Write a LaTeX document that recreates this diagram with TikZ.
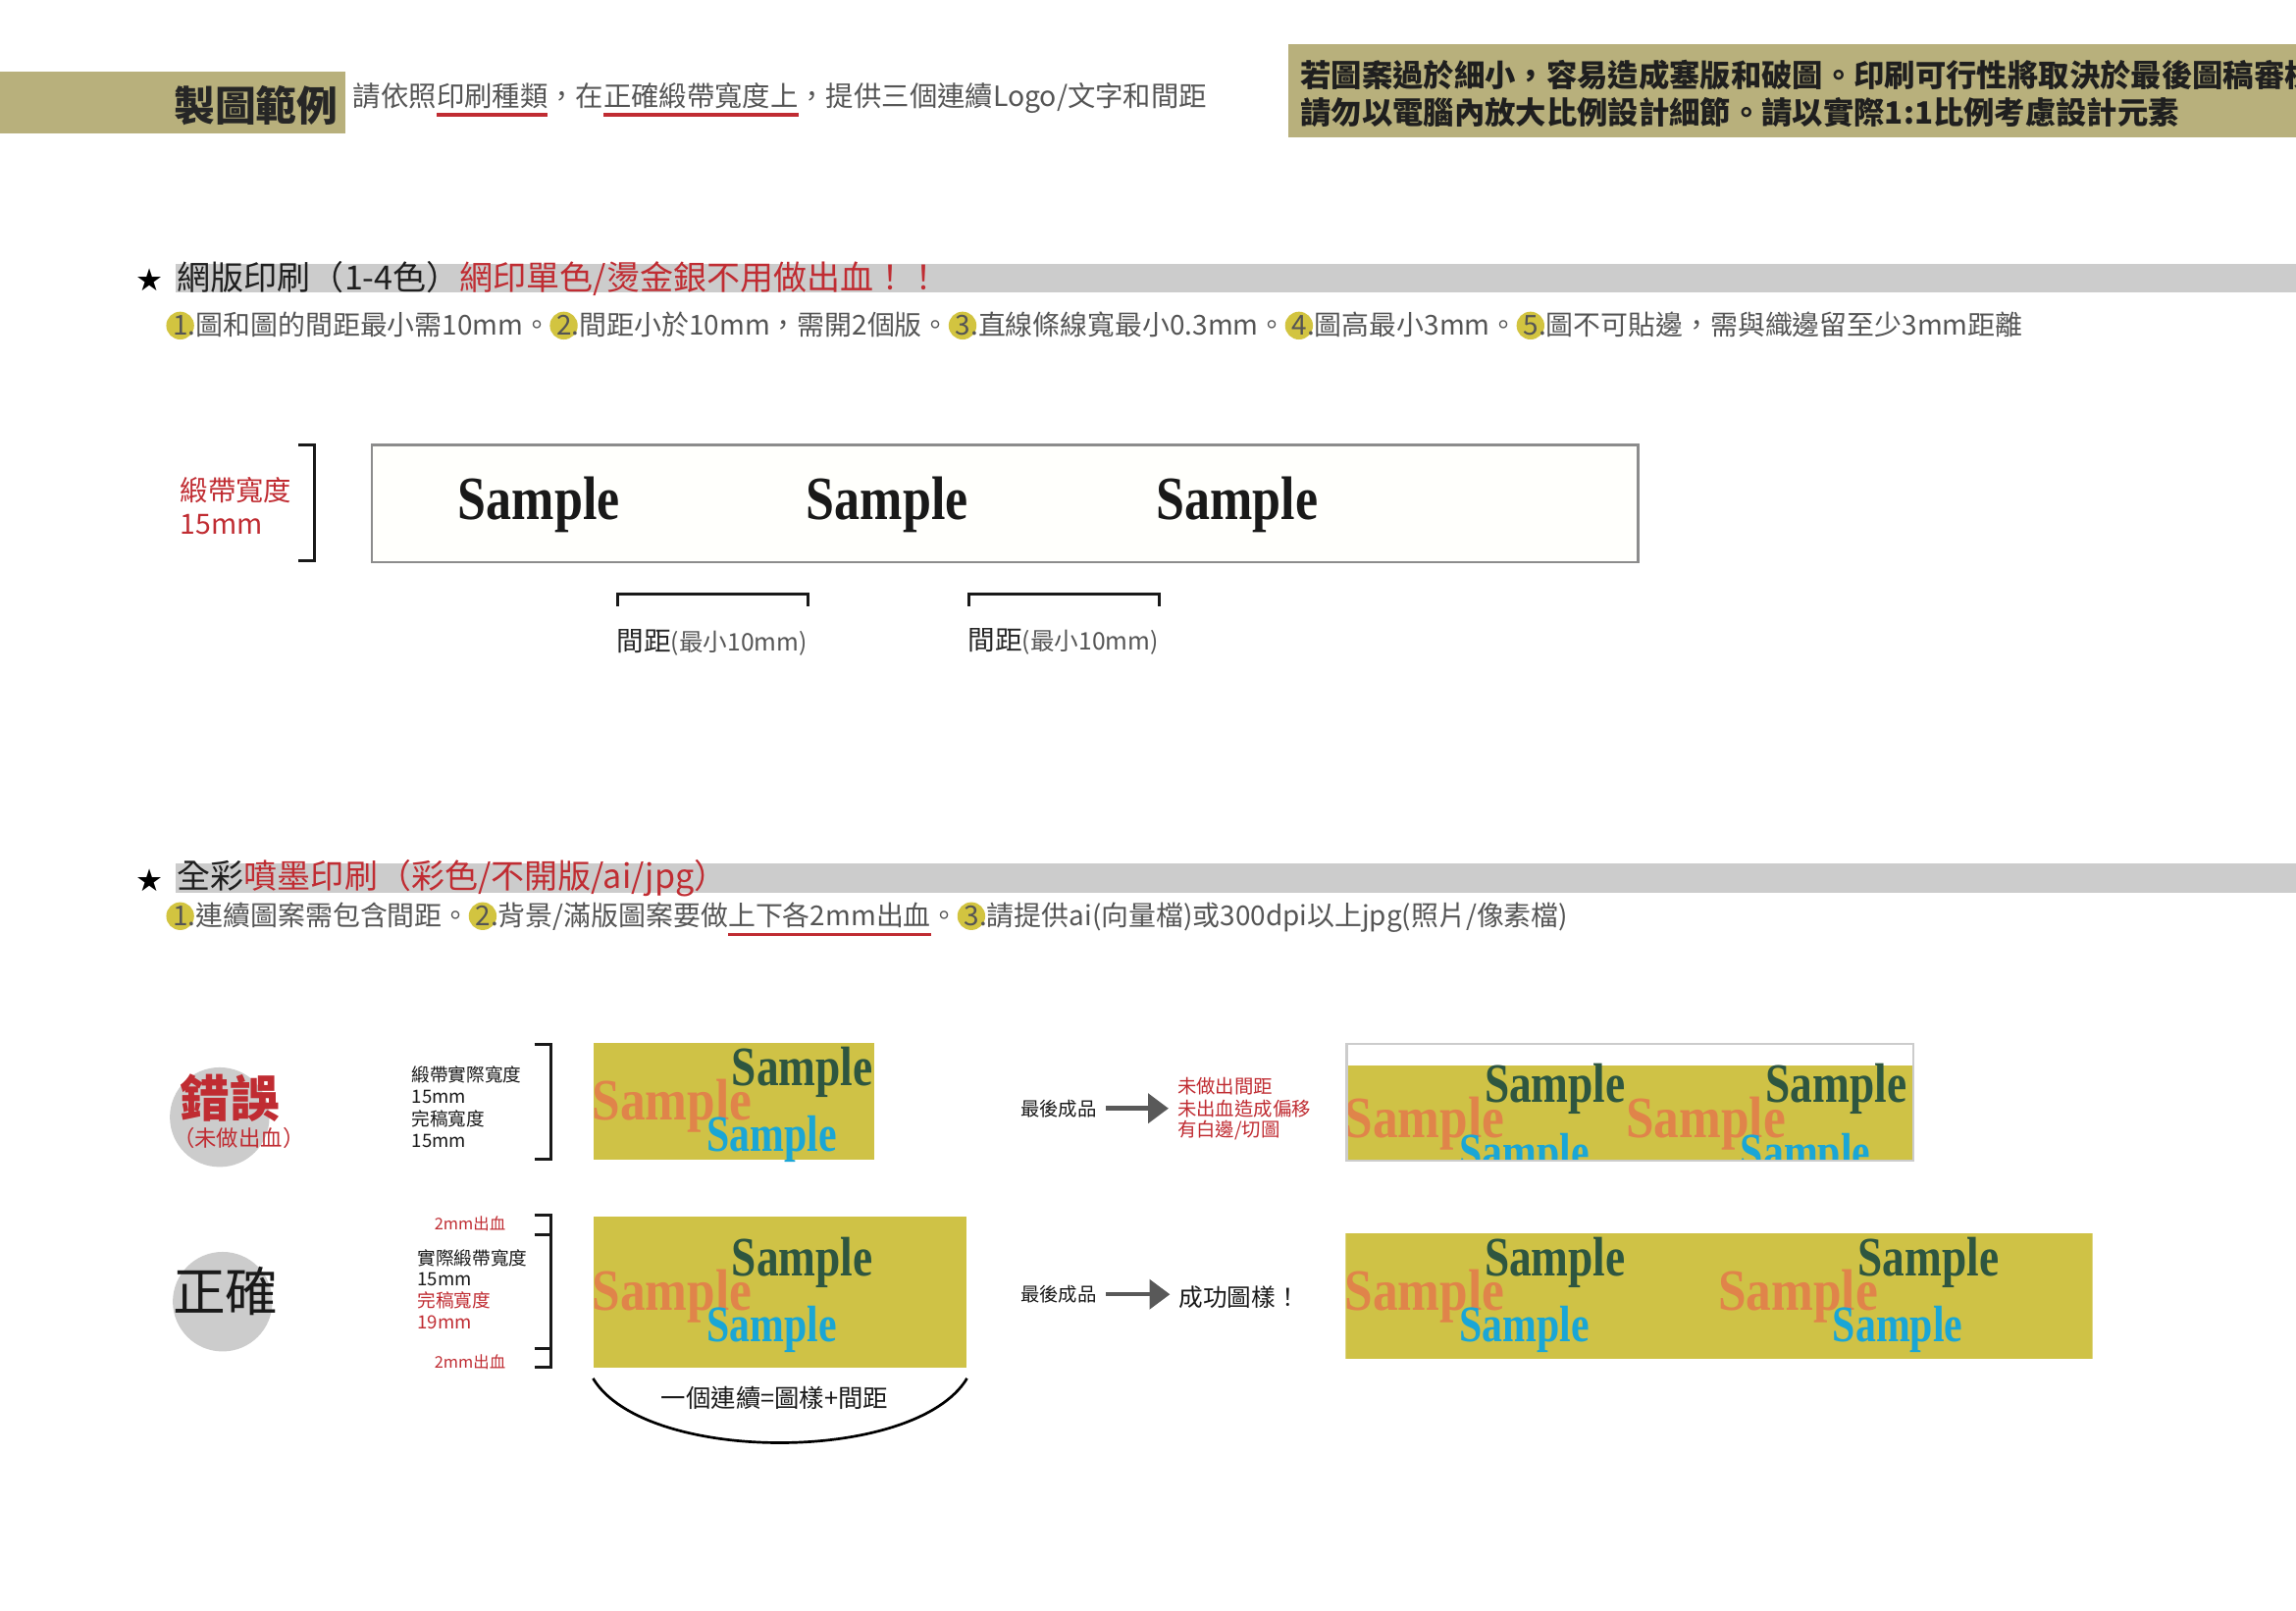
\documentclass[tikz,border=0pt]{standalone}
\usepackage{fontspec}
\setmainfont{Noto Sans CJK TC}
\newfontfamily\serifb{Liberation Serif}
\newfontfamily\symf{DejaVu Sans}
\usetikzlibrary{arrows.meta}
\definecolor{khaki}{RGB}{184,176,124}
\definecolor{ribyel}{RGB}{207,194,70}
\definecolor{numyel}{RGB}{210,196,64}
\definecolor{sgreen}{RGB}{46,86,64}
\definecolor{sorange}{RGB}{224,132,74}
\definecolor{sblue}{RGB}{26,166,214}
\definecolor{ulred}{RGB}{192,44,50}
\definecolor{bodygray}{RGB}{85,85,85}
\definecolor{bargray}{RGB}{204,204,204}
\newcommand\fs[1]{\fontsize{#1}{#1}\selectfont}
\newsavebox\ulbox
\newcommand\redul[1]{\sbox\ulbox{#1}\rlap{\color{ulred}\rule[-7pt]{\wd\ulbox}{2.2pt}}\usebox\ulbox}
\newcommand\numc[1]{\hspace{4pt}\tikz[x=1pt,y=1pt,baseline=0pt]{\fill[numyel,overlay] (0.27em,0.36em) circle (9.5pt); \node[inner sep=0pt,anchor=base west,text=bodygray](nc) at (0,0) {#1};}}
\newcommand\smp[1]{\scalebox{#1}[1]{Sample}}
\tikzset{
  txt/.style={inner sep=0pt,anchor=west},
  ctxt/.style={inner sep=0pt},
  sampK/.style={inner sep=0pt,font=\serifb\bfseries\fs{42},text=black!90},
  sampG/.style={inner sep=0pt,font=\serifb\bfseries\fs{38},text=sgreen},
  sampO/.style={inner sep=0pt,font=\serifb\bfseries\fs{40},text=sorange},
  sampB/.style={inner sep=0pt,font=\serifb\bfseries\fs{35},text=sblue},
  brk/.style={line width=2pt,draw=black!90},
  arrowst/.style={draw=black!65,line width=3pt,-{Triangle[length=14pt,width=20pt]},shorten <=6pt,shorten >=6pt},
  graycirc/.style={circle,fill=bargray,inner sep=0pt,minimum size=68pt},
}
% three coloured samples, origin = top-left of a full-bleed tile
\newcommand\samples[3]{%
  \node[sampO] (o#3) at (#1+54,#2+54) {\smp{0.86}};
  \node[sampG] (g#3) at (#1+143,#2+31) {\smp{0.8}};
  \node[sampB] (b#3) at (#1+122,#2+77) {\smp{0.8}};
}
\begin{document}
\begin{tikzpicture}[x=1pt,y=-1pt]
\useasboundingbox (0,0) rectangle (1568,1100);
\clip (0,0) rectangle (1568,1100);
\fill[white] (0,0) rectangle (1568,1100);

% ---------- header ----------
\fill[khaki] (0,49) rectangle (236,91);
\node[ctxt,anchor=east,font=\fs{28}\bfseries,text=black!85] (title) at (231,72) {製圖範例};
\node[txt,font=\fs{19},text=bodygray] (intro) at (241,68)
  {請依照\redul{印刷種類}，在\redul{正確緞帶寬度上}，提供三個連續Logo/文字和間距};
\fill[khaki] (880,30) rectangle (1568,94);
\node[txt,font=\fs{21}\bfseries,text=black!88] (warn1) at (888,51)
  {若圖案過於細小，容易造成塞版和破圖。印刷可行性將取決於最後圖稿審核};
\node[txt,font=\fs{21}\bfseries,text=black!88] (warn2) at (888,77)
  {請勿以電腦內放大比例設計細節。請以實際1:1比例考慮設計元素};

% ---------- section 1 ----------
\fill[bargray] (120,180) rectangle (1568,200);
\node[ctxt,font=\symf\fs{21}] (star1) at (102,191) {★};
\node[txt,font=\fs{22.8},text=black!88] (sec1) at (121,190)
  {網版印刷（1-4色）\textcolor{ulred}{網印單色/燙金銀不用做出血！！}};
\node[txt,font=\fs{18.7},text=bodygray] (rules1) at (114,222)
  {\numc{1}.圖和圖的間距最小需10mm。\numc{2}.間距小於10mm，需開2個版。\numc{3}.直線條線寬最小0.3mm。\numc{4}.圖高最小3mm。\numc{5}.圖不可貼邊，需與織邊留至少3mm距離};

\node[draw=black!45,line width=1.8pt,fill=yellow!1,inner sep=0pt,minimum width=865pt,minimum height=80pt,anchor=north west] (strip) at (253,303) {};
\node[sampK] (k1) at (368,345) {\smp{0.83}};
\node[sampK] (k2) at (606,345) {\smp{0.83}};
\node[sampK] (k3) at (845,345) {\smp{0.83}};
\draw[brk] (204,304) -- (215,304) -- (215,383) -- (204,383);
\node[txt,font=\fs{19},text=ulred] (wlab1) at (123,335) {緞帶寬度};
\node[txt,font=\fs{19},text=ulred] (wlab2) at (123,358) {15mm};
\draw[brk] (422,414) -- (422,406) -- (552,406) -- (552,414);
\draw[brk] (662,414) -- (662,406) -- (792,406) -- (792,414);
\node[txt,text=black!85] (gap1) at (421,439) {{\fs{18.5}間距}{\fs{16.5}\color{bodygray}(最小10mm)}};
\node[txt,text=black!85] (gap2) at (661,438) {{\fs{18.5}間距}{\fs{16.5}\color{bodygray}(最小10mm)}};

% ---------- section 2 ----------
\fill[bargray] (120,590) rectangle (1568,610);
\node[ctxt,font=\symf\fs{21}] (star2) at (102,601) {★};
\node[txt,font=\fs{22.8},text=black!88] (sec2) at (121,600)
  {全彩\textcolor{ulred}{噴墨印刷（彩色/不開版/ai/jpg）}};
\node[txt,font=\fs{18.7},text=bodygray] (rules2) at (114,628)
  {\numc{1}.連續圖案需包含間距。\numc{2}.背景/滿版圖案要做\redul{上下各2mm出血}。\numc{3}.請提供ai(向量檔)或300dpi以上jpg(照片/像素檔)};

% wrong
\node[graycirc] (c1) at (150,763) {};
\node[ctxt,font=\fs{34}\bfseries,text=ulred] (wrong) at (157,750) {錯誤};
\node[ctxt,font=\fs{15},text=ulred] (wrongsub) at (163,777) {（未做出血）};
\node[txt,font=\fs{12.5},text=black!90] (t1a) at (281,734) {緞帶實際寬度};
\node[txt,font=\fs{12.5},text=black!90] (t1b) at (281,749) {15mm};
\node[txt,font=\fs{12.5},text=black!90] (t1c) at (281,764) {完稿寬度};
\node[txt,font=\fs{12.5},text=black!90] (t1d) at (281,779) {15mm};
\draw[brk] (365,713) -- (376,713) -- (376,792) -- (365,792);
\node[fill=ribyel,inner sep=0pt,minimum width=192pt,minimum height=80pt,anchor=north west] (box1) at (405,712) {};
\samples{405}{701}{A}

% right
\node[graycirc] (c2) at (152,889) {};
\node[ctxt,font=\fs{36},text=black!90] (right) at (154,882) {正確};
\node[ctxt,font=\fs{11},text=ulred] (bl1) at (321,836) {2mm出血};
\node[txt,font=\fs{12.5},text=black!90] (t2a) at (285,859) {實際緞帶寬度};
\node[txt,font=\fs{12.5},text=black!90] (t2b) at (285,874) {15mm};
\node[txt,font=\fs{12.5},text=ulred] (t2c) at (285,888) {完稿寬度};
\node[txt,font=\fs{12.5},text=ulred] (t2d) at (285,903) {19mm};
\node[ctxt,font=\fs{11},text=ulred] (bl2) at (321,930) {2mm出血};
\draw[brk] (365,830) -- (376,830) -- (376,934) -- (365,934);
\draw[brk] (365,843) -- (376,843);
\draw[brk] (365,921) -- (376,921);
\node[fill=ribyel,inner sep=0pt,minimum width=255pt,minimum height=103pt,anchor=north west] (box2) at (405,831) {};
\samples{405}{831}{B}
\draw[line width=1.8pt] ([yshift=-7pt]box2.south west) .. controls (440,1000) and (625,1000) .. ([yshift=-7pt]box2.south east);
\node[ctxt,font=\fs{17},text=black!90] (cont) at (529,955) {一個連續=圖樣+間距};

% results
\node[ctxt,font=\fs{13},text=black!90] (fin1) at (723,757) {最後成品};
\node[txt,font=\fs{13},text=ulred] (n1a) at (804,742) {未做出間距};
\node[txt,font=\fs{13},text=ulred] (n1b) at (804,757) {未出血造成偏移};
\node[txt,font=\fs{13},text=ulred] (n1c) at (804,772) {有白邊/切圖};
\draw[arrowst] (fin1) -- (n1b);

\begin{scope}
\clip (919,712) rectangle (1306,792);
\fill[ribyel] (919,728) rectangle (1306,792);
\samples{919}{713}{C}
\samples{1111}{713}{D}
\end{scope}
\node[draw=black!20,line width=1.5pt,inner sep=0pt,minimum width=387pt,minimum height=80pt,anchor=north west] (res1) at (919,712) {};

\node[ctxt,font=\fs{13},text=black!90] (fin2) at (723,884) {最後成品};
\node[txt,font=\fs{16.5},text=black!90] (succ) at (805,886) {成功圖樣！};
\draw[arrowst] (fin2.east) -- (fin2.east -| succ.west);
\begin{scope}
\clip (919,842) rectangle (1429,928);
\fill[ribyel] (919,842) rectangle (1429,928);
\samples{919}{831}{E}
\samples{1174}{831}{F}
\end{scope}
\end{tikzpicture}
\end{document}
